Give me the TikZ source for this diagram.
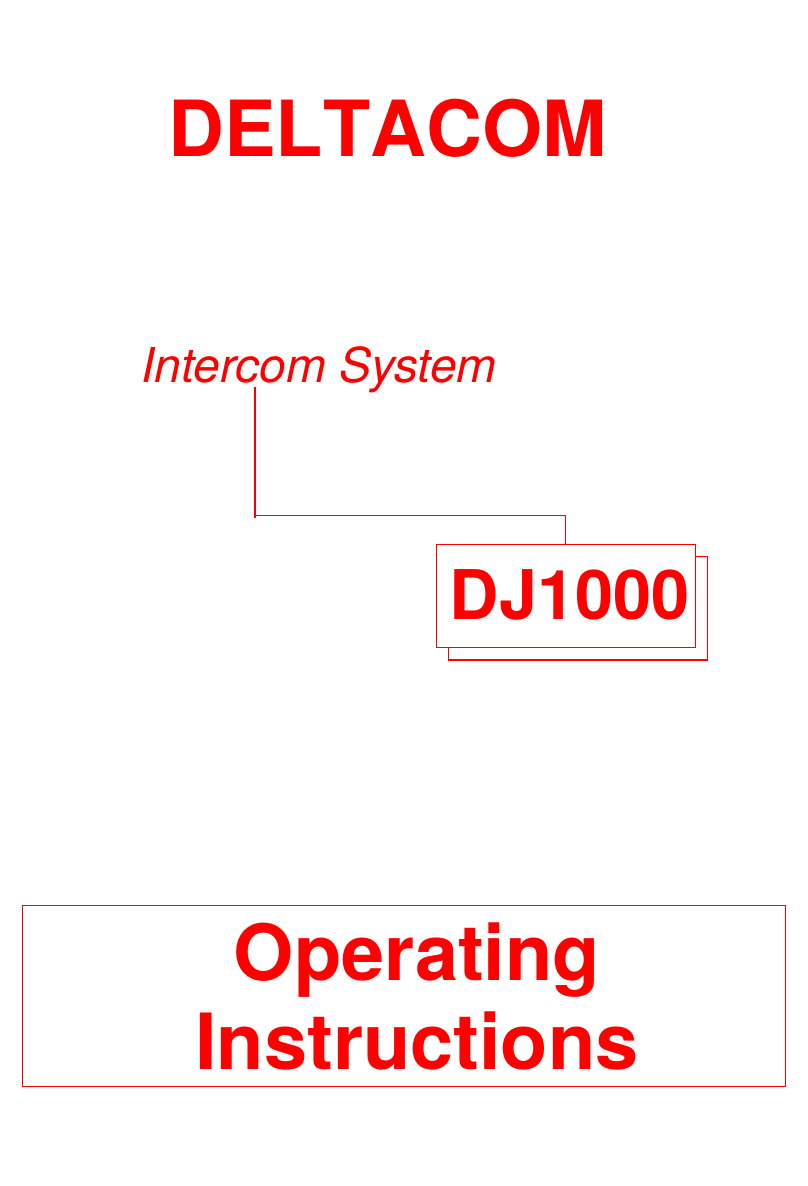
\documentclass[tikz,border=0pt]{standalone}
\usepackage{fontspec}
\setmainfont{TeX Gyre Heros}
\newfontfamily\plainhv[Kerning=Off]{TeX Gyre Heros}
\definecolor{rd}{RGB}{255,0,0}
\tikzset{
  ln/.style={draw=rd,line width=1.3pt},
  boxn/.style={draw=rd,line width=1.3pt,inner sep=0pt,anchor=north west},
  bigtxt/.style={text=rd,font=\bfseries\fontsize{#1}{#1}\selectfont,inner sep=0pt,anchor=base}
}
\begin{document}
\begin{tikzpicture}[x=1pt,y=-1pt]
\useasboundingbox[fill=white] (0,0) rectangle (808,1186);
\node[text=rd,inner sep=0pt,anchor=base,font=\plainhv\bfseries\fontsize{77.4}{78}\selectfont] (title) at (387.5,156.3) {DELTACOM};
\node[text=rd,inner sep=0pt,anchor=base,font=\itshape\fontsize{48}{48}\selectfont] (sub) at (319,382) {Intercom System};
\coordinate (subdrop) at (255,387);
\coordinate (bend) at (255,515.5);
\coordinate (tick) at (255,517.5);
\coordinate (backa) at (695,556.7);
\coordinate (backb) at (707.7,556.7);
\coordinate (backc) at (707.7,660);
\coordinate (backd) at (448.7,660);
\coordinate (backe) at (448.7,647);
\draw[ln] (backa) -- (backb) -- (backc) -- (backd) -- (backe);
\node[boxn,minimum width=259pt,minimum height=103pt] (dj) at (436,544) {};
\node[bigtxt=68.5] (djt) at (569.5,619) {DJ1000};
\coordinate (boxtop) at (565.5,515.5);
\draw[ln] (subdrop) -- (tick);
\draw[ln] (bend) -- (boxtop) -- (dj.north -| boxtop);
\node[boxn,minimum width=763pt,minimum height=180.5pt] (op) at (22,905) {};
\node[bigtxt=77.5] (op1) at (417,980) {Operating};
\node[bigtxt=77.5] (op2) at (417,1069) {Instructions};
\end{tikzpicture}
\end{document}
